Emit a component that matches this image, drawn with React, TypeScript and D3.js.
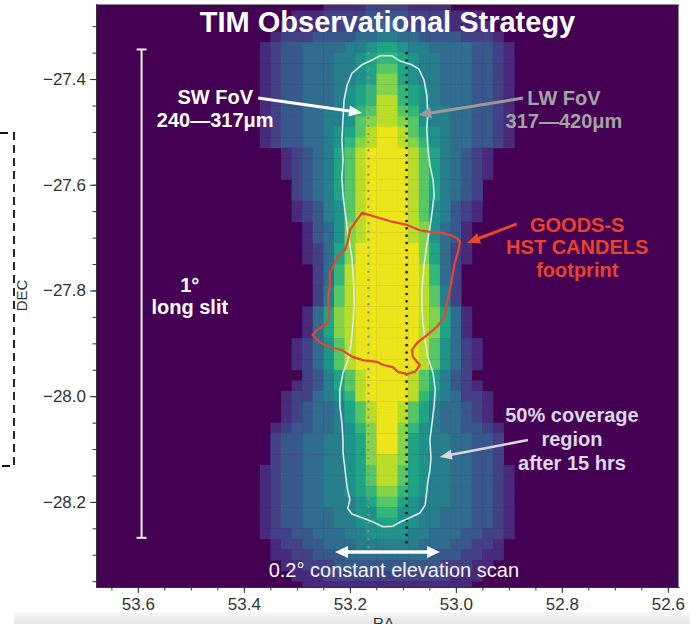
import { useEffect, useRef } from "react"
import * as d3 from "d3"

// axes, in degrees
const RA_RANGE = [53.679, 52.579]
const DEC_RANGE = [-27.258, -28.361]
const RA_TICKS = [53.6, 53.4, 53.2, 53.0, 52.8, 52.6]
const DEC_TICKS = [-27.4, -27.6, -27.8, -28.0, -28.2]

// coverage map: 0.02 deg pixels, first column starts at RA 53.41, first row at Dec -27.25
const CELL = 0.02
const GRID_RA_START = 53.41
const GRID_DEC_START = -27.25
const LEVELS = "0123456789abc"
const COVERAGE = [
    "000000001111222211110000000",
    "000001112222333322221110000",
    "000011112222344322221111000",
    "000122233334455443333222100",
    "001233444455677655444433210",
    "001233444556788765544433210",
    "001233444556799765544433210",
    "0012334445567aa765544433210",
    "0012334445678aa876544433210",
    "0012334445678bb876544433210",
    "0012334455689bb986554433210",
    "001233445569abba96554433210",
    "001233445679bccb97654433210",
    "00123344568abccba8654433210",
    "00001234579bccccb9754321000",
    "00001234579bccccb9754321000",
    "00001234579bccccb9754321000",
    "00000234579bccccb9754320000",
    "00000234579bccccb9754320000",
    "00000123569bccccb9653210000",
    "00000123569bccccb9653210000",
    "0000001346abccccba643100000",
    "0000001346abccccba643100000",
    "0000001247acccccca742100000",
    "0000001247acccccca742100000",
    "0000000248bccccccb842000000",
    "0000000248bccccccb842000000",
    "0000000259bccccccb952000000",
    "0000000259bccccccb952000000",
    "000000147abccccccba74100000",
    "000000147abccccccba74100000",
    "000000147abccccccba74100000",
    "0000012469bccccccb964210000",
    "0000012469bccccccb964210000",
    "0000012469bccccccb964210000",
    "00000023579bccccb9753200000",
    "00000123579bccccb9753210000",
    "00001224568bccccb8654221000",
    "000012344579bccb97544321000",
    "000012344579bccb97544321000",
    "000123344568acca86544332100",
    "000233445567acca76554433200",
    "000233445567acca76554433200",
    "000233445567abba76554433200",
    "0012334455679bb976554433210",
    "0012334455679bb976554433210",
    "0012334455678aa876554433210",
    "001233445556799765554433210",
    "001233444556688665544433210",
    "001233444556677665544433210",
    "001223344455666655444332210",
    "000122334445555554443322100",
    "000112233344444444333221100",
    "000011222333333333322211000",
    "000001112222222222221110000",
    "000000111111111111111100000",
]

// 50% coverage contour after 15 hrs [RA, Dec]
const HALF_COVERAGE = [
    [53.143, -27.356], [53.121, -27.356], [53.105, -27.366], [53.083, -27.373], [53.070, -27.381],
    [53.060, -27.402], [53.055, -27.430], [53.053, -27.464], [53.055, -27.496], [53.053, -27.529],
    [53.049, -27.563], [53.043, -27.591], [53.041, -27.619], [53.045, -27.652], [53.049, -27.682],
    [53.055, -27.714], [53.060, -27.752], [53.064, -27.799], [53.064, -27.837], [53.062, -27.862],
    [53.058, -27.894], [53.053, -27.926], [53.043, -27.956], [53.039, -27.988], [53.041, -28.017],
    [53.045, -28.051], [53.049, -28.083], [53.047, -28.117], [53.049, -28.140], [53.053, -28.162],
    [53.055, -28.181], [53.058, -28.206], [53.068, -28.221], [53.087, -28.230], [53.105, -28.238],
    [53.119, -28.246], [53.138, -28.247], [53.156, -28.238], [53.177, -28.230], [53.196, -28.223],
    [53.204, -28.212], [53.200, -28.196], [53.205, -28.174], [53.209, -28.140], [53.213, -28.106],
    [53.213, -28.083], [53.215, -28.051], [53.219, -28.017], [53.219, -27.988], [53.213, -27.956],
    [53.204, -27.932], [53.198, -27.903], [53.194, -27.862], [53.192, -27.827], [53.192, -27.799],
    [53.194, -27.771], [53.196, -27.739], [53.200, -27.714], [53.205, -27.682], [53.209, -27.652],
    [53.213, -27.619], [53.215, -27.587], [53.213, -27.553], [53.215, -27.515], [53.213, -27.477],
    [53.211, -27.440], [53.205, -27.411], [53.196, -27.389], [53.177, -27.373], [53.158, -27.364],
]

// GOODS-S HST CANDELS footprint [RA, Dec]
const GOODS_S = [
    [53.177, -27.653], [53.124, -27.669], [53.092, -27.676], [53.068, -27.686], [53.049, -27.689],
    [53.024, -27.691], [53.011, -27.695], [52.998, -27.701], [52.992, -27.708], [52.996, -27.727],
    [53.002, -27.748], [53.007, -27.775], [53.011, -27.799], [53.017, -27.824], [53.021, -27.850],
    [53.036, -27.869], [53.054, -27.884], [53.073, -27.899], [53.083, -27.913], [53.081, -27.926],
    [53.068, -27.941], [53.077, -27.954], [53.092, -27.958], [53.109, -27.954], [53.119, -27.945],
    [53.137, -27.941], [53.149, -27.935], [53.175, -27.932], [53.194, -27.926], [53.215, -27.913],
    [53.238, -27.907], [53.256, -27.899], [53.270, -27.884], [53.262, -27.875], [53.243, -27.862],
    [53.238, -27.843], [53.241, -27.818], [53.238, -27.793], [53.238, -27.767], [53.232, -27.756],
    [53.224, -27.737], [53.209, -27.723], [53.204, -27.708], [53.200, -27.686], [53.187, -27.667],
]

// slit centres (RA) and their extent in Dec
const SW_RA = 53.165
const LW_RA = 53.093
const SLIT_DEC = [-27.351, -28.287]

const TITLE = "TIM Observational Strategy"
const SW_LABEL = ["SW FoV", "240\u2014317\u03bcm"]
const LW_LABEL = ["LW FoV", "317\u2014420\u03bcm"]
const GOODS_LABEL = ["GOODS-S", "HST CANDELS", "footprint"]
const SLIT_LABEL = ["1\u00b0", "long slit"]
const COVER_LABEL = ["50% coverage", "region", "after 15 hrs"]
const SCAN_LABEL = "0.2\u00b0 constant elevation scan"

const FONT = "'Liberation Sans', Arial, Helvetica, sans-serif"

export default function App() {
    const svgRef = useRef<SVGSVGElement>(null)

    useEffect(() => {
        const svg = d3.select(svgRef.current)
        svg.selectAll("*").remove()

        const left = 96, top = 4, right = 679, bottom = 587
        const x = d3.scaleLinear().domain(RA_RANGE).range([left, right])
        const y = d3.scaleLinear().domain(DEC_RANGE).range([top, bottom])
        const level = (ch: string) => LEVELS.indexOf(ch)
        const color = (l: number) => d3.interpolateViridis(l === 0 ? 0 : 0.04 + l * 0.0775)

        const defs = svg.append("defs")
        const grad = defs.append("linearGradient").attr("id", "band")
            .attr("x1", 0).attr("y1", 0).attr("x2", 0).attr("y2", 1)
        grad.append("stop").attr("offset", "0%").attr("stop-color", "#f8f8f8")
        grad.append("stop").attr("offset", "100%").attr("stop-color", "#e6e6e6")
        defs.append("clipPath").attr("id", "plotclip")
            .append("rect").attr("x", left).attr("y", top)
            .attr("width", right - left).attr("height", bottom - top)

        // light strip at the very bottom of the screenshot
        svg.append("rect").attr("x", 14).attr("y", 612).attr("width", 676).attr("height", 12)
            .attr("fill", "url(#band)")

        const plot = svg.append("g").attr("clip-path", "url(#plotclip)")
        plot.append("rect").attr("x", left).attr("y", top)
            .attr("width", right - left).attr("height", bottom - top)
            .attr("fill", color(0))

        // coverage pixels
        const cells = COVERAGE.flatMap((row, k) =>
            row.split("").map((ch, i) => ({ k, i, l: level(ch) })).filter(d => d.l > 0))
        plot.selectAll("rect.cell")
            .data(cells)
            .join("rect")
            .attr("class", "cell")
            .attr("x", d => x(GRID_RA_START - CELL * d.i))
            .attr("y", d => y(GRID_DEC_START - CELL * d.k))
            .attr("width", d => x(GRID_RA_START - CELL * (d.i + 1)) - x(GRID_RA_START - CELL * d.i) + 0.4)
            .attr("height", d => y(GRID_DEC_START - CELL * (d.k + 1)) - y(GRID_DEC_START - CELL * d.k) + 0.4)
            .attr("fill", d => color(d.l))

        const closed = d3.line<number[]>()
            .x(d => x(d[0]))
            .y(d => y(d[1]))
            .curve(d3.curveLinearClosed)

        // slit tracks
        plot.append("line")
            .attr("x1", x(SW_RA)).attr("x2", x(SW_RA))
            .attr("y1", y(SLIT_DEC[0])).attr("y2", y(SLIT_DEC[1]))
            .attr("stroke", "#8d8a8d").attr("stroke-width", 2.4)
            .attr("stroke-linecap", "round").attr("stroke-dasharray", "0 8.1")
        plot.append("line")
            .attr("x1", x(LW_RA)).attr("x2", x(LW_RA))
            .attr("y1", y(SLIT_DEC[0])).attr("y2", y(SLIT_DEC[1]))
            .attr("stroke", "#111111").attr("stroke-width", 2.6)
            .attr("stroke-linecap", "round").attr("stroke-dasharray", "0 7.3")

        plot.append("path")
            .attr("d", closed(HALF_COVERAGE))
            .attr("fill", "none")
            .attr("stroke", "#d9eeec")
            .attr("stroke-width", 1.6)

        plot.append("path")
            .attr("d", closed(GOODS_S))
            .attr("fill", "none")
            .attr("stroke", "#e6462e")
            .attr("stroke-width", 2.2)
            .attr("stroke-linejoin", "round")

        // arrows
        function arrow(g: any, p1: number[], p2: number[], col: string, w: number, len: number, wid: number, both = false) {
            const x1 = x(p1[0]), y1 = y(p1[1]), x2 = x(p2[0]), y2 = y(p2[1])
            const a = Math.atan2(y2 - y1, x2 - x1)
            const head = (px: number, py: number, ang: number) => {
                const bx = px - len * Math.cos(ang), by = py - len * Math.sin(ang)
                const h = wid / 2
                return [[px, py], [bx + h * Math.sin(ang), by - h * Math.cos(ang)], [bx - h * Math.sin(ang), by + h * Math.cos(ang)]]
                    .map(p => p.join(",")).join(" ")
            }
            const sx = both ? x1 + (len - 2) * Math.cos(a) : x1
            const sy = both ? y1 + (len - 2) * Math.sin(a) : y1
            g.append("line")
                .attr("x1", sx).attr("y1", sy)
                .attr("x2", x2 - (len - 2) * Math.cos(a)).attr("y2", y2 - (len - 2) * Math.sin(a))
                .attr("stroke", col).attr("stroke-width", w)
            g.append("polygon").attr("points", head(x2, y2, a)).attr("fill", col)
            if (both) g.append("polygon").attr("points", head(x1, y1, a + Math.PI)).attr("fill", col)
        }

        const notes = svg.append("g")
        arrow(notes, [53.373, -27.436], [53.177, -27.464], "#ffffff", 3, 13, 11)
        arrow(notes, [52.873, -27.436], [53.071, -27.468], "#9a9a9a", 3, 13, 11)
        arrow(notes, [52.885, -27.674], [52.979, -27.710], "#e6462e", 3, 13, 11)
        arrow(notes, [52.864, -28.083], [53.030, -28.115], "#dcd6e4", 2.6, 12, 10)
        arrow(notes, [53.228, -28.295], [53.030, -28.295], "#ffffff", 3.5, 13, 12, true)

        // 1 degree long slit bar
        const barX = x(53.593)
        const barTop = y(-27.344), barBot = y(-28.268)
        notes.append("line").attr("x1", barX).attr("x2", barX).attr("y1", barTop).attr("y2", barBot)
            .attr("stroke", "#f3edf3").attr("stroke-width", 2)
        ;[barTop, barBot].forEach(v => {
            notes.append("line").attr("x1", barX - 5).attr("x2", barX + 5).attr("y1", v).attr("y2", v)
                .attr("stroke", "#f3edf3").attr("stroke-width", 2)
        })

        // texts
        function block(lines: string[], ra: number, dec: number, lh: number, fill: string, size = 20, weight = "bold") {
            const t = notes.append("text")
                .attr("x", x(ra)).attr("y", y(dec))
                .attr("text-anchor", "middle")
                .attr("font-family", FONT)
                .attr("font-size", size)
                .attr("font-weight", weight)
                .attr("fill", fill)
            lines.forEach((s, i) => {
                t.append("tspan").attr("x", x(ra)).attr("dy", i === 0 ? 0 : lh).text(s)
            })
        }
        notes.append("text")
            .attr("x", (left + right) / 2).attr("y", 32)
            .attr("text-anchor", "middle")
            .attr("font-family", FONT).attr("font-size", 29).attr("font-weight", "bold")
            .attr("fill", "#ffffff")
            .text(TITLE)
        block(SW_LABEL, 53.454, -27.447, 23, "#ffffff")
        block(LW_LABEL, 52.796, -27.449, 23, "#a3a3a3")
        block(GOODS_LABEL, 52.771, -27.689, 22.5, "#e4432d")
        block(SLIT_LABEL, 53.502, -27.803, 22, "#ffffff")
        block(COVER_LABEL, 52.781, -28.049, 24, "#ddd7e7")
        block([SCAN_LABEL], 53.117, -28.342, 0, "#f6f6f6", 20, "normal")

        // frame
        svg.append("path")
            .attr("d", `M${left},${top + 0.5}H${right - 0.5}V${bottom}`)
            .attr("fill", "none").attr("stroke", "#8a8a8a").attr("stroke-width", 1)

        // axes
        const fmt = d3.format(".1f")
        const minorRa = d3.range(0, 23).map(i => +(53.65 - i * 0.05).toFixed(2))
            .filter(v => v <= RA_RANGE[0] && v >= RA_RANGE[1])
        const minorDec = d3.range(0, 23).map(i => +(-27.25 - i * 0.05).toFixed(2))
            .filter(v => v <= DEC_RANGE[0] && v >= DEC_RANGE[1])

        const styleAxis = (g: any) => {
            g.selectAll(".domain").attr("stroke", "#333333")
            g.selectAll(".tick line").attr("stroke", "#333333")
            g.selectAll(".tick text")
                .attr("fill", "#333333")
                .attr("font-family", FONT)
                .attr("font-size", 17)
        }
        svg.append("g").attr("transform", `translate(${left},0)`)
            .call(d3.axisLeft(y).tickValues(minorDec).tickSize(3.5).tickSizeOuter(0).tickFormat(() => ""))
            .call(styleAxis)
        svg.append("g").attr("transform", `translate(${left},0)`)
            .call(d3.axisLeft(y).tickValues(DEC_TICKS).tickSize(6).tickSizeOuter(0).tickPadding(4).tickFormat(fmt))
            .call(styleAxis)
        svg.append("g").attr("transform", `translate(0,${bottom})`)
            .call(d3.axisBottom(x).tickValues(minorRa).tickSize(3.5).tickSizeOuter(0).tickFormat(() => ""))
            .call(styleAxis)
        svg.append("g").attr("transform", `translate(0,${bottom})`)
            .call(d3.axisBottom(x).tickValues(RA_TICKS).tickSize(6).tickSizeOuter(0).tickPadding(5).tickFormat(fmt))
            .call(styleAxis)

        svg.append("text")
            .attr("transform", `translate(27,${(top + bottom) / 2}) rotate(-90)`)
            .attr("text-anchor", "middle")
            .attr("font-family", FONT).attr("font-size", 15).attr("fill", "#333333")
            .text("DEC")
        svg.append("text")
            .attr("x", (left + right) / 2 - 4).attr("y", 628)
            .attr("text-anchor", "middle")
            .attr("font-family", FONT).attr("font-size", 15).attr("fill", "#333333")
            .text("RA")

        // dashed bracket on the left edge
        svg.append("path")
            .attr("d", "M0,133H14V466H0")
            .attr("fill", "none").attr("stroke", "#111111")
            .attr("stroke-width", 1.8).attr("stroke-dasharray", "8 5")
    }, [])

    return (
        <svg ref={svgRef} width={690} height={624}
            style={{ position: "absolute", left: 0, top: 0, display: "block", background: "#ffffff" }} />
    )
}
